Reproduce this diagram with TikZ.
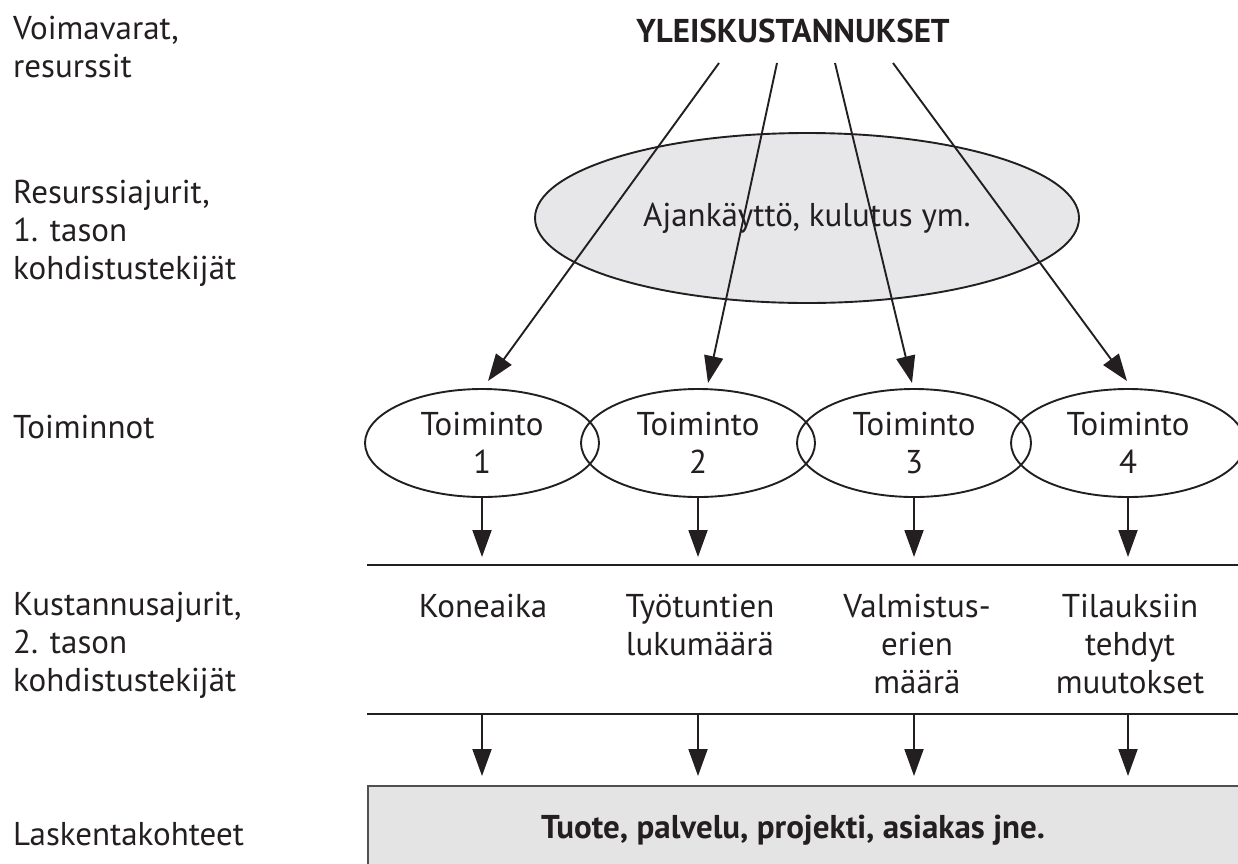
\documentclass[tikz,border=0pt]{standalone}
\usepackage{fontspec}
\setmainfont{PT Sans}
\usetikzlibrary{shapes.geometric,arrows.meta}
\definecolor{ink}{RGB}{35,31,32}
\definecolor{fillg}{RGB}{231,231,233}
\definecolor{boxg}{RGB}{228,228,228}
\definecolor{boxline}{RGB}{80,80,80}
\begin{document}
\begin{tikzpicture}[x=1pt,y=-1pt,
  txt/.style={font=\fontsize{33}{38}\selectfont, text=ink, inner sep=0pt},
  lbl/.style={txt, align=left, anchor=north west},
  drv/.style={txt, align=center, anchor=north},
  act/.style={txt, ellipse, draw=ink, line width=1.9pt, minimum width=234pt,
    minimum height=108pt, align=center},
  res/.style={txt, ellipse, draw=ink, fill=fillg, line width=1.9pt,
    minimum width=544pt, minimum height=170pt},
  arr/.style={draw=ink, line width=1.9pt, -{Triangle[length=27pt,width=19pt]}},
  rule/.style={draw=ink, line width=1.9pt},
  objbox/.style={draw=boxline, fill=boxg, line width=1.6pt, inner sep=0pt,
    anchor=north west, minimum width=900pt, minimum height=110pt}
]
\useasboundingbox (0,0) rectangle (1238,863);

% left column labels
\node[lbl] (L1) at (13,16) {Voimavarat,\\resurssit};
\node[lbl] (L2) at (13,180) {Resurssiajurit,\\1. tason\\kohdistustekijät};
\node[lbl] (L3) at (13,415) {Toiminnot};
\node[lbl] (L4) at (13,592) {Kustannusajurit,\\2. tason\\kohdistustekijät};
\node[lbl] (L5) at (13,822) {Laskentakohteet};

% title
\node[txt, font=\fontsize{33}{38}\selectfont\bfseries, anchor=base] (title) at (793,42) {YLEISKUSTANNUKSET};

% resource drivers ellipse
\node[res] (res) at (807,218) {Ajankäyttö, kulutus ym.};

% activities
\node[act] (t1) at (482,443) {Toiminto\\1};
\node[act] (t2) at (698,443) {Toiminto\\2};
\node[act] (t3) at (914,443) {Toiminto\\3};
\node[act] (t4) at (1128,443) {Toiminto\\4};

% arrows from overheads to activities
\coordinate (s1) at (719,63);
\coordinate (s2) at (777,63);
\coordinate (s3) at (835,63);
\coordinate (s4) at (893,63);
\coordinate (e1) at (488,381);
\coordinate (e2) at (708,383);
\coordinate (e3) at (912,383);
\coordinate (e4) at (1127,381);
\draw[arr] (s1) -- (e1);
\draw[arr] (s2) -- (e2);
\draw[arr] (s3) -- (e3);
\draw[arr] (s4) -- (e4);

% horizontal rules
\coordinate (r1a) at (367,565);
\coordinate (r1b) at (1238,565);
\coordinate (r2a) at (367,714);
\coordinate (r2b) at (1238,714);
\draw[rule] (r1a) -- (r1b);
\draw[rule] (r2a) -- (r2b);

% activity to first rule
\draw[arr, shorten >=8pt] (t1.south) -- (t1.south |- r1a);
\draw[arr, shorten >=8pt] (t2.south) -- (t2.south |- r1a);
\draw[arr, shorten >=8pt] (t3.south) -- (t3.south |- r1a);
\draw[arr, shorten >=8pt] (t4.south) -- (t4.south |- r1a);

% cost drivers
\node[drv] (d1) at (483,594) {Koneaika};
\node[drv] (d2) at (700,594) {Työtuntien\\lukumäärä};
\node[drv] (d3) at (917,594) {Valmistus-\\erien\\määrä};
\node[drv] (d4) at (1130,594) {Tilauksiin\\tehdyt\\muutokset};

% cost objects box
\node[objbox] (box) at (367,785) {};
\node[txt, font=\fontsize{33}{38}\selectfont\bfseries, anchor=base] (obj) at (793,838) {Tuote, palvelu, projekti, asiakas jne.};

% second rule to box
\draw[arr, shorten >=9pt] (t1.south |- r2a) -- (t1.south |- box.north);
\draw[arr, shorten >=9pt] (t2.south |- r2a) -- (t2.south |- box.north);
\draw[arr, shorten >=9pt] (t3.south |- r2a) -- (t3.south |- box.north);
\draw[arr, shorten >=9pt] (t4.south |- r2a) -- (t4.south |- box.north);
\end{tikzpicture}
\end{document}
